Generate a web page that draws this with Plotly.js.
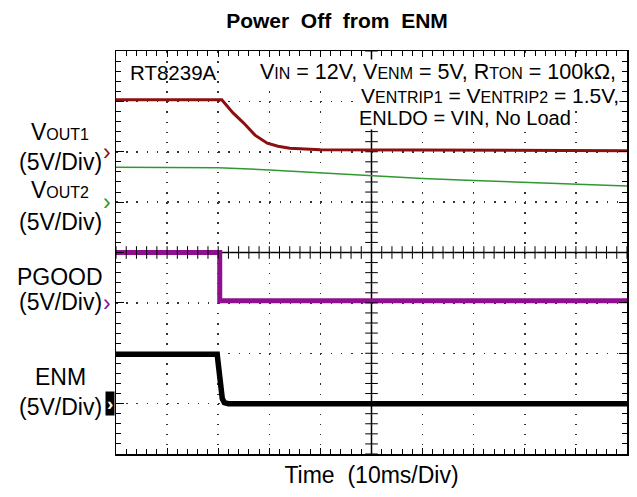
<!DOCTYPE html>
<html>
<head>
<meta charset="utf-8">
<script src="https://cdn.plot.ly/plotly-3.0.1.min.js"></script>
<style>html,body{margin:0;padding:0;background:#fff}</style>
</head>
<body>
<div id="chart" style="width:637px;height:497px"></div>
<script>
// Time axis in divisions (10 ms/div), voltages in volts (5 V/div)
const vout1Time = [0, 2.07, 2.29, 2.50, 2.72, 2.96, 3.17, 3.40, 4, 5, 6, 7, 8, 9, 10];
const vout1Volt = [5.15, 5.15, 3.85, 2.85, 1.65, 0.85, 0.55, 0.35, 0.2, 0.18, 0.15, 0.15, 0.15, 0.12, 0.1];

const vout2Time = [0, 2, 3, 4, 5, 6, 7, 8, 9, 10];
const vout2Volt = [3.45, 3.4, 3.2, 2.9, 2.6, 2.35, 2.15, 1.95, 1.8, 1.6];

const pgoodTime = [0, 2.03, 2.03, 10];
const pgoodVolt = [5.0, 5.0, 0.2, 0.2];

const enmTime = [0, 1.98, 2.0, 2.03, 2.05, 2.08, 2.12, 2.2, 10];
const enmVolt = [4.9, 4.9, 4.0, 2.5, 1.65, 0.5, 0.1, 0, 0];

// channel ground offsets in divisions
const channelNames = ['VOUT1', 'VOUT2', 'PGOOD', 'ENM'];
const channelOffsets = [6, 5, 3, 1];
const voltsPerDiv = 5;

function toDiv(v, off) { return v.map(x => off + x / voltsPerDiv); }

const colVout1 = '#8c1010', colVout2 = '#2e9a2e', colPgood = '#8e108e', colEnm = '#000000';

const traces = [
  {x: vout1Time, y: toDiv(vout1Volt, channelOffsets[0]), mode: 'lines', line: {color: colVout1, width: 3}, hoverinfo: 'skip'},
  {x: vout2Time, y: toDiv(vout2Volt, channelOffsets[1]), mode: 'lines', line: {color: colVout2, width: 1.5}, hoverinfo: 'skip'},
  {x: pgoodTime, y: toDiv(pgoodVolt, channelOffsets[2]), mode: 'lines', line: {color: colPgood, width: 5}, hoverinfo: 'skip'},
  {x: enmTime, y: toDiv(enmVolt, channelOffsets[3]), mode: 'lines', line: {color: colEnm, width: 5.5}, hoverinfo: 'skip'}
];

// center cross tick marks
const minorX = [], minorY = [];
for (let i = 0; i <= 50; i++) minorX.push(i / 5);
for (let i = 0; i <= 40; i++) minorY.push(i / 5);
traces.push({x: minorX, y: minorX.map(() => 4), mode: 'markers', marker: {symbol: 'line-ns', size: 9, line: {color: '#000', width: 1}}, hoverinfo: 'skip'});
traces.push({x: minorY.map(() => 5), y: minorY, mode: 'markers', marker: {symbol: 'line-ew', size: 9, line: {color: '#000', width: 1}}, hoverinfo: 'skip'});

const fontMain = 'Arial, "Liberation Sans", sans-serif';
const sub = (t, s) => '<span style="font-size:' + s + 'px">' + t + '</span>';

const ann = [];
const plotTop = 51, plotH = 403, plotLeft = 116, plotW = 511;
const py = p => 1 - (p - plotTop) / plotH;
const px = p => (p - plotLeft) / plotW;

function leftLabel(text, y) {
  ann.push({xref: 'paper', yref: 'paper', x: px(60), y: py(y), text: text, showarrow: false, xanchor: 'center', yanchor: 'middle', font: {family: fontMain, size: 23, color: '#000'}});
}
leftLabel('V' + sub('OUT1', 16), 132);
leftLabel('(5V/Div)', 162);
leftLabel('V' + sub('OUT2', 16), 190);
leftLabel('(5V/Div)', 222);
leftLabel('PGOOD', 277);
leftLabel('(5V/Div)', 302);
leftLabel('ENM', 377);
leftLabel('(5V/Div)', 407);

// channel markers
const markerColors = [colVout1, colVout2, colPgood];
for (let i = 0; i < 3; i++) {
  ann.push({xref: 'paper', yref: 'y', x: px(107), y: channelOffsets[i], text: '›', showarrow: false, xanchor: 'center', yanchor: 'middle', font: {family: fontMain, size: 23, color: markerColors[i]}});
}
ann.push({xref: 'paper', yref: 'y', x: px(109.5), y: channelOffsets[3], text: '<b>›</b>', showarrow: false, xanchor: 'center', yanchor: 'middle', bgcolor: '#000', borderpad: 1, font: {family: fontMain, size: 19, color: '#fff'}});

// top annotations
const topFont = {family: fontMain, size: 21, color: '#000'};
ann.push({xref: 'paper', yref: 'paper', x: px(128), y: py(73), text: 'RT8239A', showarrow: false, xanchor: 'left', yanchor: 'middle', font: {family: fontMain, size: 20.5, color: '#000'}});
ann.push({xref: 'paper', yref: 'paper', x: px(617), y: py(72), text: 'V' + sub('IN', 16) + ' = 12V, V' + sub('ENM', 16) + ' = 5V, R' + sub('TON', 16) + ' = 100kΩ,', showarrow: false, xanchor: 'right', yanchor: 'middle', bgcolor: '#fff', borderpad: 0, font: {family: fontMain, size: 21.5, color: '#000'}});
ann.push({xref: 'paper', yref: 'paper', x: px(620), y: py(95), text: 'V' + sub('ENTRIP1', 16) + ' = V' + sub('ENTRIP2', 16) + ' = 1.5V,', showarrow: false, xanchor: 'right', yanchor: 'middle', bgcolor: '#fff', borderpad: 0, font: topFont});
ann.push({xref: 'paper', yref: 'paper', x: px(358), y: py(118), text: 'ENLDO = VIN, No Load', showarrow: false, xanchor: 'left', yanchor: 'middle', bgcolor: '#fff', borderpad: 0, font: {family: fontMain, size: 20, color: '#000'}});

const layout = {
  width: 637, height: 497,
  margin: {l: 116, r: 10, t: 51, b: 43},
  paper_bgcolor: '#fff', plot_bgcolor: '#fff',
  showlegend: false,
  title: {text: '<b>Power  Off  from  ENM</b>', xref: 'paper', x: px(337), xanchor: 'center', y: 0.958, yanchor: 'middle', font: {family: fontMain, size: 21, color: '#000'}},
  xaxis: {
    range: [0, 10], dtick: 1, tick0: 0, fixedrange: true,
    showticklabels: false, ticks: 'inside', ticklen: 6, tickcolor: '#000', tickwidth: 1,
    minor: {dtick: 0.2, ticks: 'inside', ticklen: 5, tickcolor: '#000', showgrid: false},
    showline: true, linecolor: '#000', linewidth: 1.5, mirror: 'ticks',
    showgrid: true, gridcolor: '#333', gridwidth: 1.5, griddash: '1.5px,8.575px',
    zeroline: false,
    title: {text: 'Time  (10ms/Div)', standoff: 12, font: {family: fontMain, size: 23, color: '#000'}}
  },
  yaxis: {
    range: [0, 8], dtick: 1, tick0: 0, fixedrange: true,
    showticklabels: false, ticks: 'inside', ticklen: 8, tickcolor: '#000', tickwidth: 1,
    minor: {dtick: 0.2, ticks: 'inside', ticklen: 5, tickcolor: '#000', showgrid: false},
    showline: true, linecolor: '#000', linewidth: 1.5, mirror: 'ticks',
    showgrid: true, gridcolor: '#333', gridwidth: 1.5, griddash: '1.5px,8.72px',
    zeroline: false
  },
  shapes: [
    {type: 'line', xref: 'x', yref: 'y', x0: 5, x1: 5, y0: 0, y1: 8, line: {color: '#000', width: 1.5}, layer: 'below'},
    {type: 'line', xref: 'x', yref: 'y', x0: 0, x1: 10, y0: 4, y1: 4, line: {color: '#000', width: 1.5}, layer: 'below'}
  ],
  annotations: ann
};

Plotly.newPlot('chart', traces, layout, {staticPlot: true, displayModeBar: false});
</script>
</body>
</html>
